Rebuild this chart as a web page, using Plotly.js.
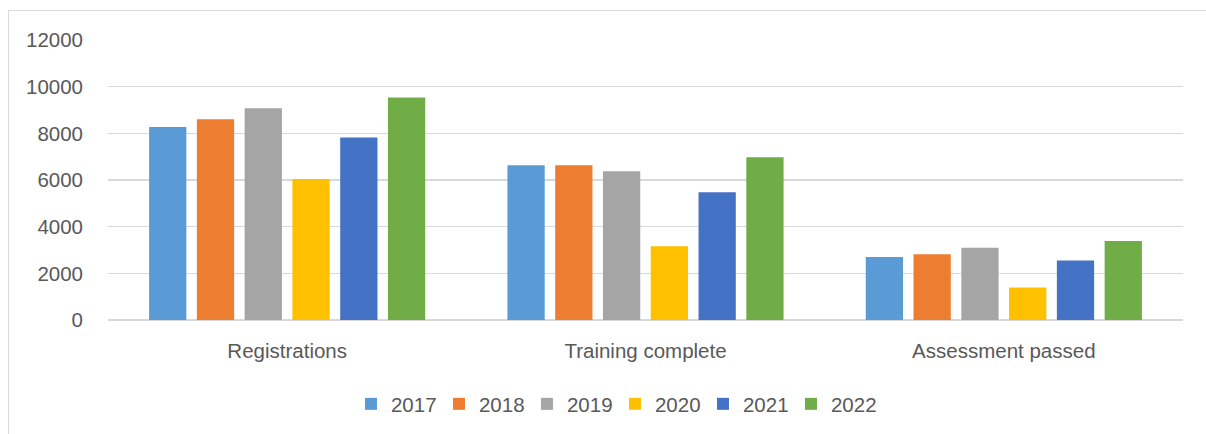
<!DOCTYPE html>
<html>
<head>
<meta charset="utf-8">
<script src="https://cdn.plot.ly/plotly-3.0.1.min.js"></script>
<style>
  html, body { margin: 0; padding: 0; background: #ffffff; overflow: hidden; }
  #frame { position: absolute; left: 8px; top: 10px; width: 1300px; height: 600px;
           border: 1px solid #d9d9d9; box-sizing: border-box; }
  #chart { position: absolute; left: 0; top: 0; width: 1206px; height: 434px; }
</style>
</head>
<body>
<div id="frame"></div>
<div id="chart"></div>
<script>
const categories = ["Registrations", "Training complete", "Assessment passed"];
const years = ["2017", "2018", "2019", "2020", "2021", "2022"];
const values2017 = [8270, 6630, 2700];
const values2018 = [8600, 6630, 2820];
const values2019 = [9070, 6370, 3100];
const values2020 = [6040, 3160, 1390];
const values2021 = [7820, 5470, 2550];
const values2022 = [9540, 6970, 3390];
const seriesValues = [values2017, values2018, values2019, values2020, values2021, values2022];
const colors = ["#5B9BD5", "#ED7D31", "#A5A5A5", "#FFC000", "#4472C4", "#70AD47"];
const yTicks = [0, 2000, 4000, 6000, 8000, 10000, 12000];

const FONT = "Liberation Sans, Arial, sans-serif";
const TEXT = "#595959";

const traces = years.map((y, i) => ({
  type: "bar",
  name: y,
  x: categories,
  y: seriesValues[i],
  marker: { color: colors[i], line: { width: 0 } },
  hoverinfo: "x+y+name"
}));

const layout = {
  width: 1206,
  height: 434,
  margin: { l: 108, r: 23, t: 40, b: 114, autoexpand: false },
  paper_bgcolor: "rgba(0,0,0,0)",
  plot_bgcolor: "rgba(0,0,0,0)",
  barmode: "group",
  bargap: 0.2,
  bargroupgap: 0.22,
  font: { family: FONT, size: 21, color: TEXT },
  xaxis: {
    type: "category",
    showgrid: false,
    zeroline: false,
    showline: false,
    ticks: "",
    ticklabelstandoff: 16,
    automargin: false,
    tickfont: { family: FONT, size: 20.5, color: TEXT }
  },
  yaxis: {
    range: [0, 12000],
    tickvals: yTicks,
    ticktext: yTicks.map(String),
    showgrid: true,
    gridcolor: "#d9d9d9",
    gridwidth: 1.3,
    zeroline: true,
    zerolinecolor: "#d9d9d9",
    zerolinewidth: 1.3,
    showline: false,
    ticks: "",
    ticklabelstandoff: 24,
    automargin: false,
    tickfont: { family: FONT, size: 20.5, color: TEXT }
  },
  showlegend: true,
  legend: {
    orientation: "h",
    x: 0.4716,
    xanchor: "center",
    y: -0.30,
    yanchor: "middle",
    entrywidth: 43,
    entrywidthmode: "pixels",
    font: { family: FONT, size: 20.5, color: TEXT },
    bgcolor: "rgba(0,0,0,0)",
    itemclick: false,
    traceorder: "normal"
  }
};

Plotly.newPlot("chart", traces, layout, { displayModeBar: false, staticPlot: true });
</script>
</body>
</html>
